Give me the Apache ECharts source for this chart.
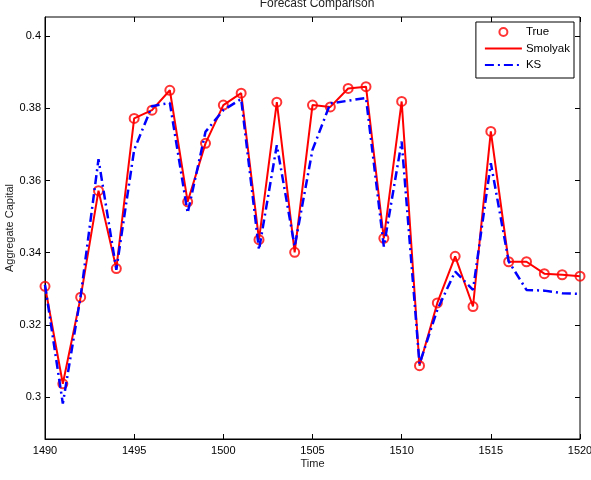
<!DOCTYPE html>
<html>
<head>
<meta charset="utf-8">
<script src="https://cdn.jsdelivr.net/npm/echarts@6/dist/echarts.min.js"></script>
<style>
  html, body { margin: 0; padding: 0; background: #fff; }
  #chart { width: 591px; height: 480px; }
</style>
</head>
<body>
<div id="chart"></div>
<script>
// years on the x axis
const years = []
for (let y = 1490; y <= 1520; y++) years.push(y)

const trueVals = [0.3307, 0.3037, 0.3277, 0.3572, 0.3356, 0.3772, 0.3795, 0.3850, 0.3541, 0.3703,
  0.3809, 0.3842, 0.3436, 0.3817, 0.3401, 0.3809, 0.3804, 0.3855, 0.3860, 0.3440,
  0.3819, 0.3087, 0.3261, 0.3390, 0.3251, 0.3736, 0.3375, 0.3375, 0.3342, 0.3339, 0.3335]

const smolyakVals = [0.3307, 0.3037, 0.3277, 0.3572, 0.3356, 0.3772, 0.3795, 0.3850, 0.3541, 0.3703,
  0.3809, 0.3842, 0.3436, 0.3817, 0.3401, 0.3809, 0.3804, 0.3855, 0.3860, 0.3440,
  0.3819, 0.3087, 0.3261, 0.3390, 0.3251, 0.3736, 0.3375, 0.3375, 0.3342, 0.3339, 0.3335]

const ksVals = [0.3311, 0.2982, 0.3280, 0.3659, 0.3353, 0.3685, 0.3806, 0.3815, 0.3510, 0.3735,
  0.3795, 0.3826, 0.3408, 0.3698, 0.3417, 0.3685, 0.3814, 0.3821, 0.3829, 0.3417,
  0.3708, 0.3092, 0.3242, 0.3348, 0.3297, 0.3648, 0.3376, 0.3297, 0.3295, 0.3288, 0.3286]

const yTicks = [0.3, 0.32, 0.34, 0.36, 0.38, 0.4]

const font = "'Liberation Sans', Arial, sans-serif"
const pair = (vals) => years.map((y, i) => [y, vals[i]])
// hide the circle that line series add to their legend icon
const noSymbol = { color: 'rgba(0,0,0,0)', borderColor: 'rgba(0,0,0,0)', borderWidth: 0 }

const chart = echarts.init(document.getElementById('chart'))

const option = {
  animation: false,
  textStyle: { fontFamily: font },
  title: {
    text: 'Forecast Comparison',
    left: 312,
    textAlign: 'center',
    top: -7,
    textStyle: { fontSize: 12, fontWeight: 'normal', color: '#222', fontFamily: font }
  },
  grid: {
    left: 45, right: 11, top: 17, bottom: 41,
    outerBoundsMode: 'none',
    show: true, borderColor: '#000', borderWidth: 1, backgroundColor: '#fff'
  },
  legend: {
    orient: 'vertical',
    right: 17,
    top: 22,
    backgroundColor: '#fff',
    borderColor: '#000',
    borderWidth: 1,
    borderRadius: 0,
    padding: [4, 4, 7, 8],
    itemGap: 4.5,
    itemWidth: 37,
    itemHeight: 8,
    textStyle: { fontSize: 11.5, color: '#000', fontFamily: font, padding: [0, 0, 0, -1] },
    data: [
      { name: 'True', icon: 'circle' },
      { name: 'Smolyak', itemStyle: noSymbol },
      { name: 'KS', itemStyle: noSymbol }
    ]
  },
  xAxis: [
    {
      type: 'value', min: 1490, max: 1520, interval: 5,
      name: 'Time', nameLocation: 'middle', nameGap: 19, nameMoveOverlap: false,
      nameTextStyle: { fontSize: 11, color: '#222', fontFamily: font },
      axisLine: { lineStyle: { color: '#000', width: 1 } },
      axisTick: { inside: true, length: 5, lineStyle: { color: '#000' } },
      axisLabel: { fontSize: 11, color: '#000', margin: 6, fontFamily: font, formatter: (v) => String(v) },
      splitLine: { show: false }
    },
    {
      type: 'value', min: 1490, max: 1520, interval: 5, position: 'top',
      axisLine: { show: false },
      axisTick: { inside: true, length: 5, lineStyle: { color: '#000' } },
      axisLabel: { show: false },
      splitLine: { show: false }
    }
  ],
  yAxis: [
    {
      type: 'value', min: 0.2884, max: 0.4053,
      name: 'Aggregate Capital', nameLocation: 'middle', nameGap: 30, nameMoveOverlap: false,
      nameTextStyle: { fontSize: 11, color: '#222', fontFamily: font },
      axisLine: { show: true, lineStyle: { color: '#000', width: 1 } },
      axisTick: { inside: true, length: 5, customValues: yTicks, lineStyle: { color: '#000' } },
      axisLabel: { fontSize: 11, color: '#000', margin: 4, customValues: yTicks, fontFamily: font },
      splitLine: { show: false }
    },
    {
      type: 'value', min: 0.2884, max: 0.4053, position: 'right',
      axisLine: { show: false },
      axisTick: { inside: true, length: 5, customValues: yTicks, lineStyle: { color: '#000' } },
      axisLabel: { show: false, customValues: yTicks },
      splitLine: { show: false }
    }
  ],
  series: [
    {
      name: 'True',
      type: 'scatter',
      data: pair(trueVals),
      symbol: 'circle',
      symbolSize: 9,
      itemStyle: { color: 'rgba(255,255,255,0)', borderColor: '#ff0000', borderWidth: 2 },
      z: 3
    },
    {
      name: 'Smolyak',
      type: 'line',
      data: pair(smolyakVals),
      symbol: 'none',
      lineStyle: { color: '#ff0000', width: 2 },
      itemStyle: { color: '#ff0000' },
      z: 2
    },
    {
      name: 'KS',
      type: 'line',
      data: pair(ksVals),
      symbol: 'none',
      lineStyle: { color: '#0000ff', width: 2.5, type: [9, 4, 2, 4] },
      itemStyle: { color: '#0000ff' },
      z: 4
    }
  ]
}

chart.setOption(option)
</script>
</body>
</html>
